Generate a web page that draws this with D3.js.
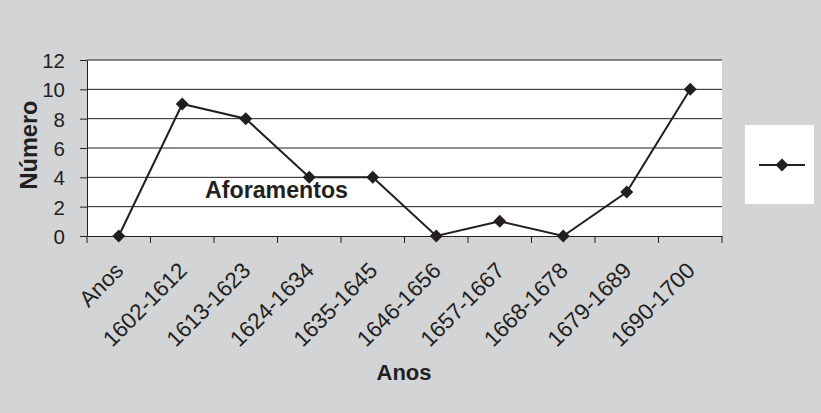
<!DOCTYPE html>
<html><head><meta charset="utf-8">
<script src="https://cdn.jsdelivr.net/npm/d3@7"></script>
<style>body{margin:0;background:#d3d4d6;}svg{display:block;}</style>
</head><body>
<svg id="c" width="821" height="413"></svg>
<script>
const categories = ["Anos","1602-1612","1613-1623","1624-1634","1635-1645","1646-1656","1657-1667","1668-1678","1679-1689","1690-1700"];
const values = [0,9,8,4,4,0,1,0,3,10];
const yTicks = [0,2,4,6,8,10,12];

const svg = d3.select("#c");
const W = 821, H = 413;
const L = 87, R = 722, T = 60, B = 236;
const font = "Liberation Sans, Arial, sans-serif";
const ink = "#231f20";

svg.append("rect").attr("width",W).attr("height",H).attr("fill","#d3d4d6");

const x = d3.scaleBand().domain(categories).range([L,R]);
const y = d3.scaleLinear().domain([0,12]).range([B,T]);

svg.append("rect").attr("x",L).attr("y",T).attr("width",R-L).attr("height",B-T).attr("fill","#fff");

// gridlines
svg.append("g").selectAll("line").data(yTicks.filter(d=>d>0)).join("line")
  .attr("x1",L).attr("x2",R).attr("y1",d=>y(d)).attr("y2",d=>y(d))
  .attr("stroke",ink).attr("stroke-width",1);

// y axis
const ya = svg.append("g").attr("transform",`translate(${L},0)`)
  .call(d3.axisLeft(y).tickValues(yTicks).tickSize(7).tickPadding(15).tickSizeOuter(0));
ya.select(".domain").attr("stroke",ink);
ya.selectAll(".tick line").attr("stroke",ink);
ya.selectAll("text").attr("font-family",font).attr("font-size",20.5).attr("fill",ink).attr("dy","0.36em");

// x axis
const xa = svg.append("g").attr("transform",`translate(0,${B})`)
  .call(d3.axisBottom(x).tickSize(0).tickSizeOuter(0));
xa.select(".domain").attr("stroke",ink);
xa.selectAll(".tick line").remove();
const bounds = categories.map(c=>x(c)).concat([x(categories[categories.length-1])+x.bandwidth()]);
svg.append("g").selectAll("line").data(bounds).join("line")
  .attr("x1",d=>d).attr("x2",d=>d).attr("y1",B).attr("y2",B+7)
  .attr("stroke",ink).attr("stroke-width",1);
xa.selectAll(".tick text")
  .attr("font-family",font).attr("font-size",22.5).attr("fill",ink)
  .attr("text-anchor","end").attr("dy",0)
  .attr("transform","translate(6,36) rotate(-45)")
  .attr("y",0).attr("x",0);

// line
const cx = d=>x(d)+x.bandwidth()/2;
const line = d3.line().x((d,i)=>cx(categories[i])).y(d=>y(d));
svg.append("path").datum(values).attr("d",line).attr("fill","none")
  .attr("stroke",ink).attr("stroke-width",2);
svg.append("g").selectAll("path").data(values).join("path")
  .attr("d", d3.symbol().type(d3.symbolSquare).size(85))
  .attr("transform",(d,i)=>`translate(${cx(categories[i])},${y(d)}) rotate(45)`)
  .attr("fill",ink);

// titles
svg.append("text").attr("x",404).attr("y",380).attr("text-anchor","middle")
  .attr("font-family",font).attr("font-weight","bold").attr("font-size",22).attr("fill",ink).text("Anos");
svg.append("text").attr("transform","translate(37,145) rotate(-90)").attr("text-anchor","middle")
  .attr("font-family",font).attr("font-weight","bold").attr("font-size",23.5).attr("fill",ink).text("Número");
svg.append("text").attr("x",205).attr("y",198)
  .attr("font-family",font).attr("font-weight","bold").attr("font-size",23).attr("fill",ink)
  .attr("textLength",143).attr("lengthAdjust","spacingAndGlyphs").text("Aforamentos");

// legend
svg.append("rect").attr("x",745).attr("y",125).attr("width",69).attr("height",79).attr("fill","#fff");
svg.append("line").attr("x1",759).attr("x2",805).attr("y1",165).attr("y2",165).attr("stroke",ink).attr("stroke-width",2);
svg.append("path").attr("d", d3.symbol().type(d3.symbolSquare).size(85)).attr("transform","translate(782,165) rotate(45)").attr("fill",ink);
</script>
</body></html>
